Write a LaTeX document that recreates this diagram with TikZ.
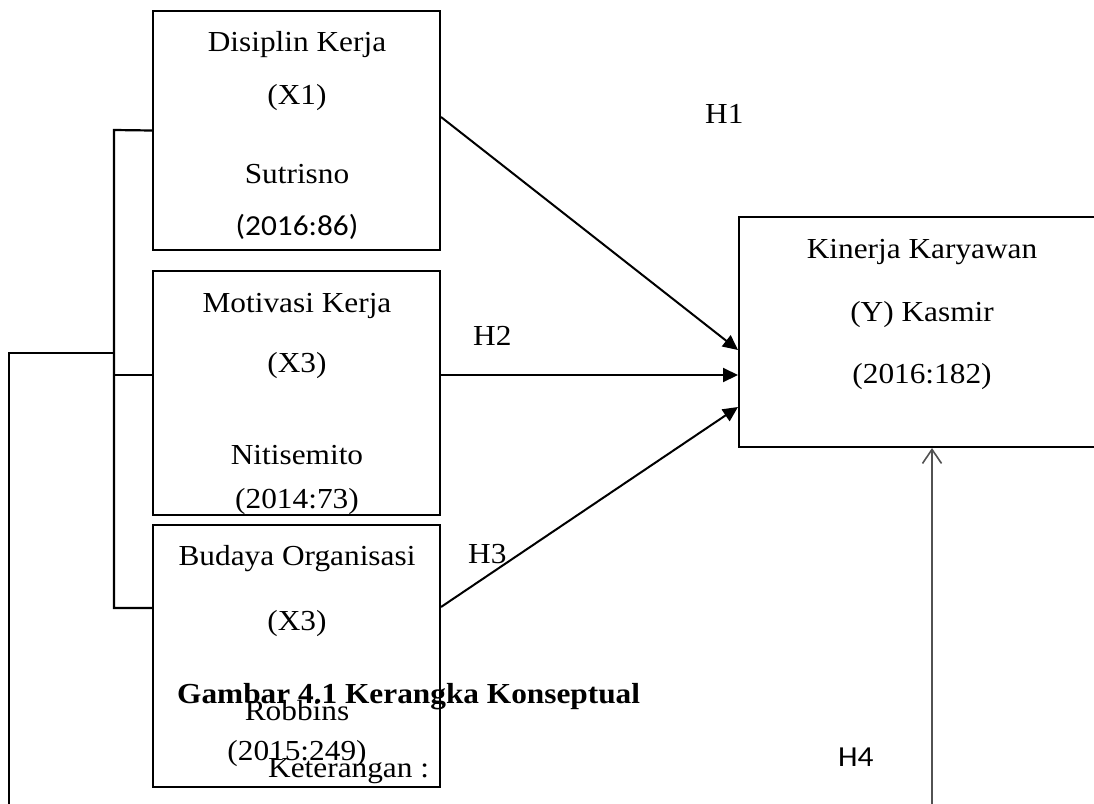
\documentclass[tikz,border=0pt]{standalone}
\usepackage{fontspec}
\setmainfont{Liberation Serif}
\newfontfamily\calibri{Carlito}
\usetikzlibrary{arrows.meta}
\newcommand{\hstr}[1]{\scalebox{1.08}[1]{#1}}
\begin{document}
\begin{tikzpicture}[x=1pt,y=-1pt,
  varbox/.style={draw=black,line width=2pt,rectangle,inner sep=0pt},
  txt/.style={anchor=base,inner sep=0pt,font=\fontsize{29}{35}\selectfont},
  ctxt/.style={anchor=base,inner sep=0pt,font=\calibri\fontsize{29}{35}\selectfont},
  conn/.style={line width=2pt,-{Triangle[length=15pt,width=14pt]}},
  brk/.style={line width=2.2pt},
  up/.style={line width=2pt,draw=black!68,-{Straight Barb[length=14pt,width=19pt,line width=1.6pt]}}]
\useasboundingbox (0,0) rectangle (1094,803);
\clip (0,0) rectangle (1094,803);
% boxes
\node[varbox,minimum width=287pt,minimum height=239pt] (b1) at (296.5,130.5) {};
\node[varbox,minimum width=287pt,minimum height=244pt] (b2) at (296.5,393) {};
\node[varbox,minimum width=287pt,minimum height=262pt] (b3) at (296.5,656) {};
\node[varbox,minimum width=371pt,minimum height=230pt] (y) at (924.5,332) {};
% texts box 1
\node[txt] (t11) at (297,51) {\hstr{Disiplin Kerja}};
\node[txt] (t12) at (297,104) {\hstr{(X1)}};
\node[txt] (t13) at (297,183) {\hstr{Sutrisno}};
\node[ctxt] (t14) at (297,235) {\hstr{(2016:86)}};
% texts box 2
\node[txt] (t21) at (297,312) {\hstr{Motivasi Kerja}};
\node[txt] (t22) at (297,372) {\hstr{(X3)}};
\node[txt] (t23) at (297,464) {\hstr{Nitisemito}};
\node[txt] (t24) at (297,508) {\hstr{(2014:73)}};
% texts box 3
\node[txt] (t31) at (297,565) {\hstr{Budaya Organisasi}};
\node[txt] (t32) at (297,630) {\hstr{(X3)}};
\node[txt] (t33) at (297,720) {\hstr{Robbins}};
\node[txt] (t34) at (297,760) {\hstr{(2015:249)}};
% texts box Y
\node[txt] (ty1) at (922,258) {\hstr{Kinerja Karyawan}};
\node[txt] (ty2) at (922,321) {\hstr{(Y) Kasmir}};
\node[txt] (ty3) at (922,383) {\hstr{(2016:182)}};
% hypothesis labels
\node[txt,anchor=base west] (h1) at (705,123) {\hstr{H1}};
\node[txt,anchor=base west] (h2) at (473,345) {\hstr{H2}};
\node[txt,anchor=base west] (h3) at (468,563) {\hstr{H3}};
\node[ctxt,anchor=base west] (h4) at (838,766) {\hstr{H4}};
% caption texts
\node[txt,anchor=base west,font=\bfseries\fontsize{29}{35}\selectfont] (cap) at (177,703) {\hstr{Gambar 4.1 Kerangka Konseptual}};
\node[txt,anchor=base west] (ket) at (268,777) {\hstr{Keterangan :}};
% arrows
\draw[conn] ([yshift=13.5pt]b1.east) -- ([yshift=-18pt]y.west);
\draw[conn] ([yshift=18pt]b2.east) -- ([yshift=-43pt]y.west);
\draw[conn] ([yshift=49pt]b3.east) -- ([yshift=-75pt]y.west);
% bracket
\coordinate (bk1) at (114,130);
\coordinate (bk2) at (114,375);
\coordinate (bk3) at (114,608);
\coordinate (ob1) at (114,353);
\coordinate (ob2) at (9,353);
\coordinate (ob3) at (9,805);
\draw[brk] (b1.west) -- (bk1) -- (bk3) -- ([yshift=48pt]b3.west);
\draw[brk] (bk2) -- ([yshift=18pt]b2.west);
\draw[brk] (ob1) -- (ob2) -- (ob3);
% vertical arrow
\coordinate (vb) at (932,805);
\draw[up] (vb) -- ([xshift=7.5pt]y.south);
\end{tikzpicture}
\end{document}
